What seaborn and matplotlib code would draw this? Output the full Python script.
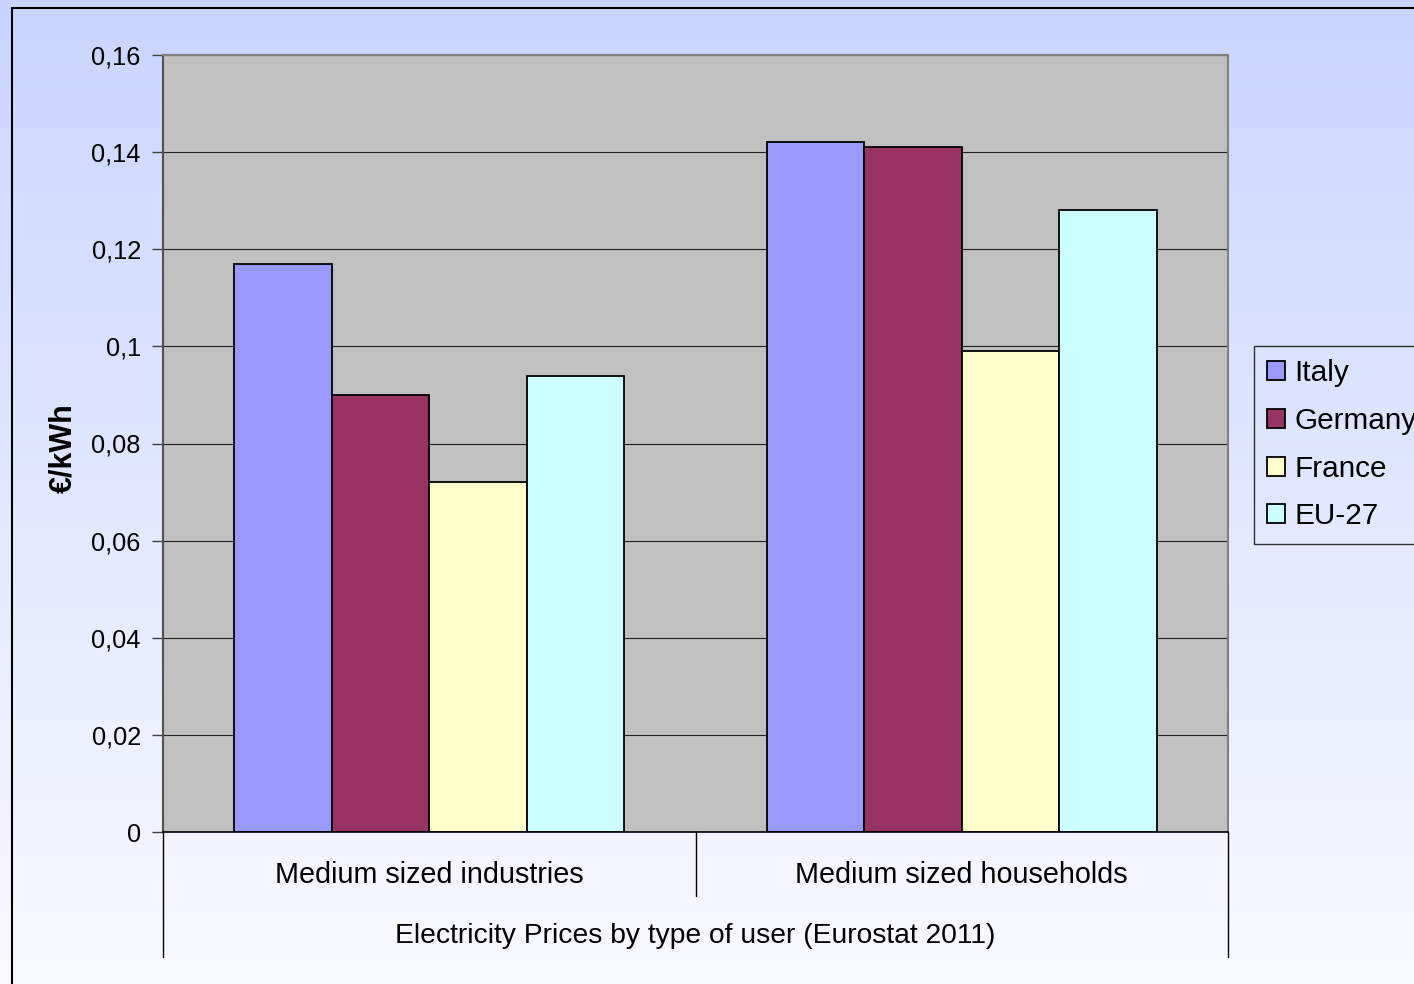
import numpy as np
import pandas as pd
import matplotlib
matplotlib.use("Agg")
import matplotlib.pyplot as plt
from matplotlib.patches import Rectangle
from matplotlib.lines import Line2D
from matplotlib.ticker import FuncFormatter
import seaborn as sns

# Electricity prices (EUR/kWh) by type of user
user_types = ["Medium sized industries", "Medium sized households"]
countries = ["Italy", "Germany", "France", "EU-27"]
italy = [0.117, 0.142]
germany = [0.090, 0.141]
france = [0.072, 0.099]
eu27 = [0.094, 0.128]
colors = ["#9999FF", "#993366", "#FFFFCC", "#CCFFFF"]
y_ticks = [0, 0.02, 0.04, 0.06, 0.08, 0.10, 0.12, 0.14, 0.16]

rows = []
for country, vals in zip(countries, [italy, germany, france, eu27]):
    for ut, v in zip(user_types, vals):
        rows.append({"user": ut, "country": country, "price": v})
df = pd.DataFrame(rows)

sns.set_theme(style="white")
plt.rcParams["font.family"] = ["Liberation Sans", "DejaVu Sans"]
plt.rcParams["text.color"] = "black"
plt.rcParams["axes.labelcolor"] = "black"
plt.rcParams["ytick.color"] = "black"

W, H = 1414, 984
fig = plt.figure(figsize=(W / 100, H / 100), dpi=100)

# gradient background of the chart area
bg = fig.add_axes([0, 0, 1, 1], zorder=-10)
top = np.array([202, 213, 255]) / 255
bot = np.array([249, 250, 255]) / 255
t = np.linspace(0, 1, 256)[:, None]
grad = (top[None, :] * (1 - t) + bot[None, :] * t)[:, None, :]
bg.imshow(grad, aspect="auto", extent=[0, 1, 0, 1], origin="upper")
bg.set_xlim(0, 1)
bg.set_ylim(0, 1)
bg.axis("off")
# outer frame
bg.add_patch(Rectangle((12 / W, -0.1), 2, 1 - 8 / H + 0.1, fill=False,
                       edgecolor="black", linewidth=1.5, transform=bg.transAxes))

left, right = 163 / W, 1228 / W
bottom, topy = (H - 832) / H, (H - 55) / H
ax = fig.add_axes([left, bottom, right - left, topy - bottom])
ax.set_facecolor("#C0C0C0")

sns.barplot(data=df, x="user", y="price", hue="country", hue_order=countries,
            palette=colors, order=user_types, width=0.733, edgecolor="black",
            linewidth=1.3, saturation=1, ax=ax, legend=True)

ax.set_xlim(-0.5, 1.5)
ax.set_ylim(0, 0.16)
ax.set_yticks(y_ticks)
ax.yaxis.set_major_formatter(FuncFormatter(
    lambda v, p: "0" if abs(v) < 1e-9 else (f"{v:.2f}".rstrip("0").replace(".", ","))))
ax.grid(axis="y", color="#202020", linewidth=0.8)
ax.set_axisbelow(True)
for s in ["top", "right", "left"]:
    ax.spines[s].set_color("#808080")
    ax.spines[s].set_linewidth(1.5)
ax.spines["left"].set_color("#505050")
ax.spines["bottom"].set_color("black")
ax.spines["bottom"].set_linewidth(1.2)
ax.tick_params(axis="y", which="major", direction="out", length=8, width=1,
               color="#404040", labelsize=18.3, labelcolor="black", pad=8, left=True)
ax.tick_params(axis="x", bottom=False, labelbottom=False)
ax.set_xlabel("")
ax.set_ylabel("")
fig.text(63 / W, (H - 448) / H, "€/kWh", rotation=90, ha="center", va="center",
         fontsize=22, fontweight="bold")

# category labels and separators below the axis
to_fig_y = lambda py: (H - py) / H
for xi, ut in enumerate(user_types):
    fig.text(left + (right - left) * (xi + 0.5) / 2, to_fig_y(875), ut,
             ha="center", va="center", fontsize=20.7)
fig.add_artist(Line2D([left, left], [to_fig_y(832), to_fig_y(957)], color="black", lw=1))
fig.add_artist(Line2D([right, right], [to_fig_y(832), to_fig_y(957)], color="black", lw=1))
mid = (left + right) / 2
fig.add_artist(Line2D([mid, mid], [to_fig_y(832), to_fig_y(896)], color="black", lw=1))
fig.text(mid, to_fig_y(936), "Electricity Prices by type of user (Eurostat 2011)",
         ha="center", va="center", fontsize=20.3)

# legend
handles, labels = ax.get_legend_handles_labels()
ax.legend_.remove()
leg = fig.legend(handles, labels, loc="upper left",
                 bbox_to_anchor=(1254 / W, to_fig_y(346)), frameon=True,
                 fontsize=21.4, handlelength=0.6, handleheight=0.6,
                 handletextpad=0.3, labelspacing=0.66, borderpad=0.45,
                 borderaxespad=0, fancybox=False)
leg.get_frame().set_edgecolor("black")
leg.get_frame().set_linewidth(1)
leg.get_frame().set_facecolor("none")

fig.savefig("out.png", dpi=100)
